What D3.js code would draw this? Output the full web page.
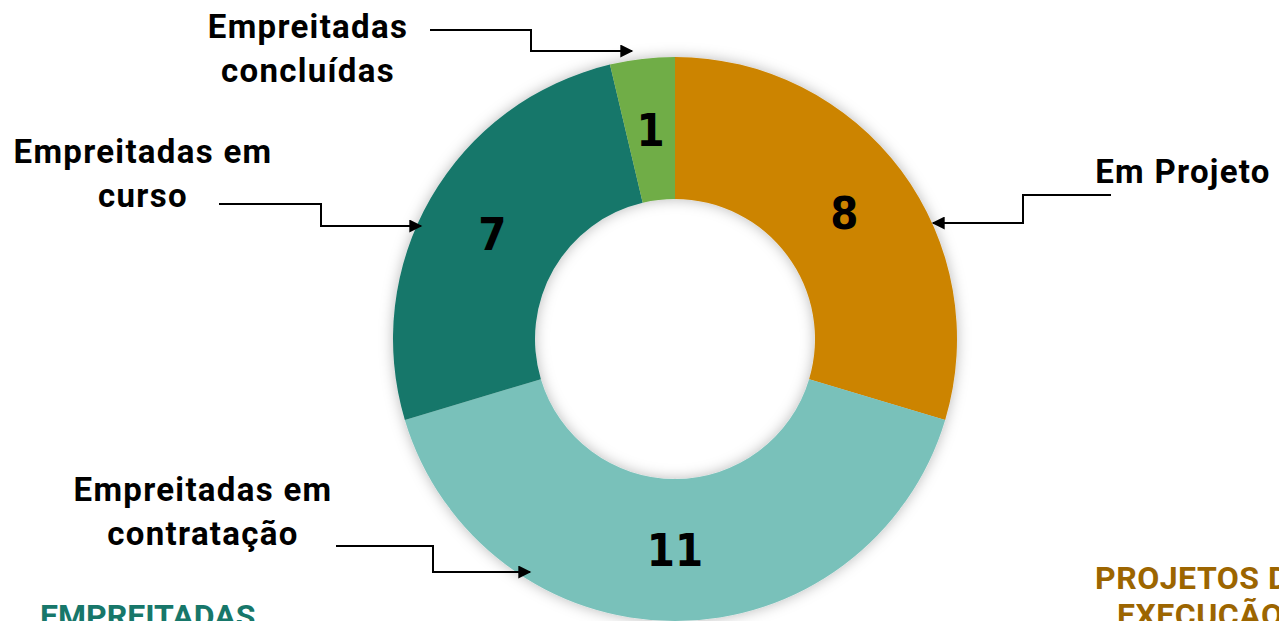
<!DOCTYPE html>
<html>
<head>
<meta charset="utf-8">
<script src="https://cdn.jsdelivr.net/npm/d3@7"></script>
<style>
  body { margin: 0; background: #fff; }
  svg { display: block; }
</style>
</head>
<body>
<div id="donut"></div>
<script>
// data
var categories = ["Em Projeto", "Empreitadas em contratação", "Empreitadas em curso", "Empreitadas concluídas"];
var values = [8, 11, 7, 1];
var colors = ["#CC8400", "#79C1BA", "#17776A", "#70AD47"];

// callout labels (text lines, text anchor, line from -> elbow -> arrow tip)
var callouts = [
  { lines: ["Em Projeto"], x: 1183, y: 183, path: [[1111, 195], [1023, 195], [1023, 223], [933, 223]] },
  { lines: ["Empreitadas em", "contratação"], x: 203, y: 501, path: [[336, 546], [433, 546], [433, 572], [530, 572]] },
  { lines: ["Empreitadas em", "curso"], x: 143, y: 163, path: [[219, 204], [321, 204], [321, 226], [421, 226]] },
  { lines: ["Empreitadas", "concluídas"], x: 308, y: 38, path: [[430, 30], [531, 30], [531, 51], [632, 51]] }
];

var width = 1279, height = 621;
var cx = 675, cy = 339, outerR = 282, innerR = 140;

var svg = d3.select("#donut")
  .append("svg")
  .attr("width", width)
  .attr("height", height);

var defs = svg.append("defs");
var shadow = defs.append("filter")
  .attr("id", "shadow")
  .attr("x", "-20%").attr("y", "-20%")
  .attr("width", "140%").attr("height", "140%");
shadow.append("feDropShadow")
  .attr("dx", 0).attr("dy", 0)
  .attr("stdDeviation", 7)
  .attr("flood-color", "#000")
  .attr("flood-opacity", 0.28);

defs.append("marker")
  .attr("id", "arrow")
  .attr("viewBox", "0 0 10 10")
  .attr("refX", 9).attr("refY", 5)
  .attr("markerWidth", 7).attr("markerHeight", 6.5)
  .attr("markerUnits", "strokeWidth")
  .attr("orient", "auto")
  .append("path")
  .attr("d", "M0,0 L10,5 L0,10 Z")
  .attr("fill", "#000");

var pie = d3.pie().sort(null).value(function (d) { return d; });
var arc = d3.arc().innerRadius(innerR).outerRadius(outerR);
var arcs = pie(values);

var g = svg.append("g")
  .attr("transform", "translate(" + cx + "," + cy + ")");

g.append("g")
  .attr("filter", "url(#shadow)")
  .selectAll("path")
  .data(arcs)
  .enter()
  .append("path")
  .attr("d", arc)
  .attr("fill", function (d, i) { return colors[i]; });

// values on slices
g.selectAll("text.val")
  .data(arcs)
  .enter()
  .append("text")
  .attr("class", "val")
  .attr("transform", function (d) { return "translate(" + arc.centroid(d) + ")"; })
  .attr("text-anchor", "middle")
  .attr("dy", "0.36em")
  .style("font-family", "'DejaVu Sans Condensed', 'DejaVu Sans', sans-serif")
  .style("font-stretch", "condensed")
  .style("font-weight", "bold")
  .style("font-size", "45px")
  .attr("fill", "#000")
  .text(function (d) { return d.data; });

// callouts
var line = d3.line();
callouts.forEach(function (c, i) {
  var t = svg.append("text")
    .attr("x", c.x)
    .attr("y", c.y)
    .attr("text-anchor", "middle")
    .style("font-family", "Roboto, sans-serif")
    .style("font-weight", "bold")
    .style("font-size", "33px")
    .style("letter-spacing", "1.3px")
    .attr("fill", "#000");
  c.lines.forEach(function (l, j) {
    t.append("tspan")
      .attr("x", c.x)
      .attr("dy", j === 0 ? 0 : 44)
      .text(l);
  });
  svg.append("path")
    .attr("d", line(c.path))
    .attr("fill", "none")
    .attr("stroke", "#000")
    .attr("stroke-width", 2)
    .attr("marker-end", "url(#arrow)");
});

// section titles (cut by the page edge as in the original slide)
svg.append("text")
  .attr("x", 40).attr("y", 627)
  .style("font-family", "Roboto, sans-serif")
  .style("font-weight", "bold")
  .style("font-size", "32px")
  .attr("fill", "#17776A")
  .text("EMPREITADAS");

var pt = svg.append("text")
  .attr("x", 1095).attr("y", 589)
  .style("font-family", "Roboto, sans-serif")
  .style("font-weight", "bold")
  .style("font-size", "32px")
  .style("letter-spacing", "0.5px")
  .attr("fill", "#9C6500");
pt.append("tspan").attr("x", 1095).text("PROJETOS DE");
pt.append("tspan").attr("x", 1117).attr("dy", 37).text("EXECUÇÃO");
</script>
</body>
</html>
